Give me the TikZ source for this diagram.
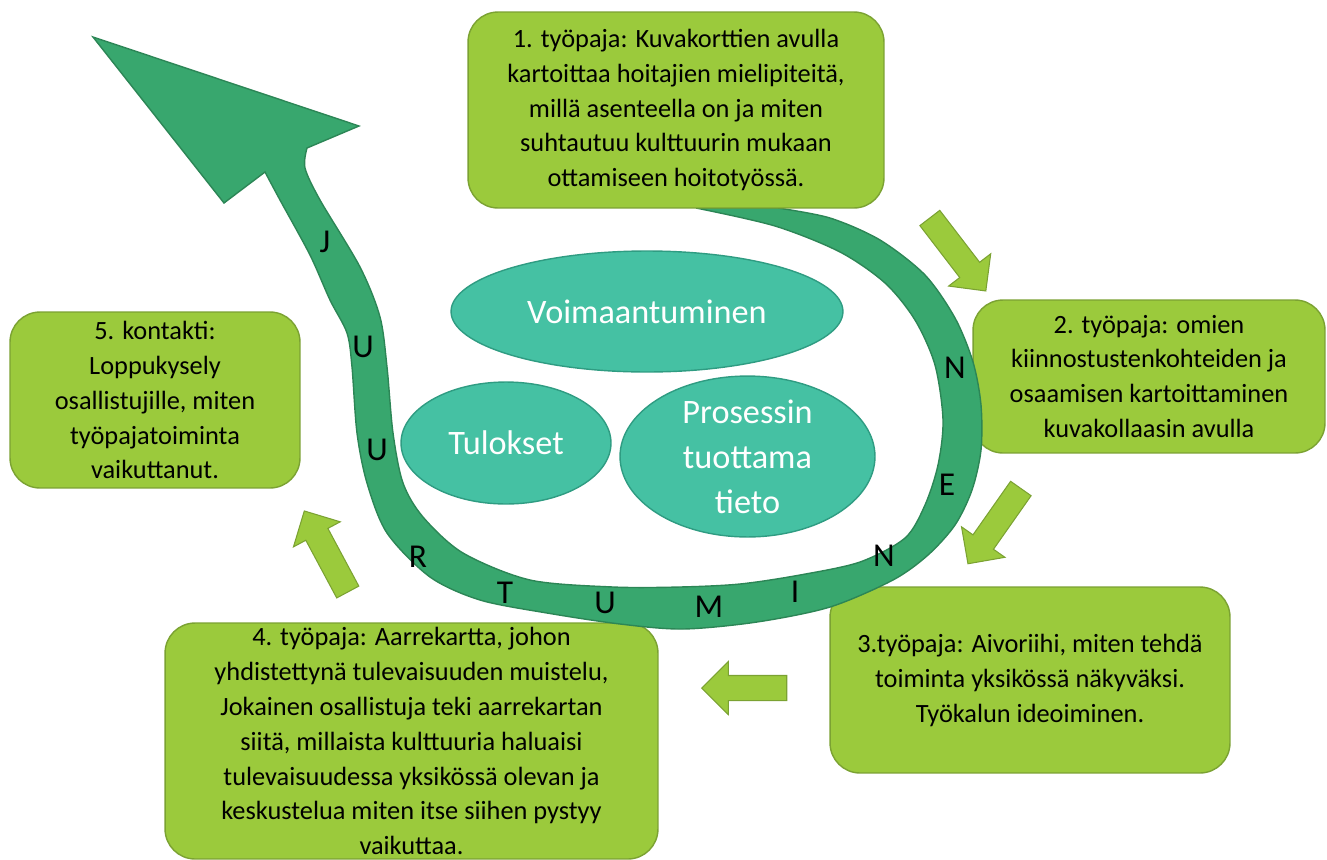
\documentclass[tikz,border=0pt]{standalone}
\usepackage{fontspec}
\setmainfont{Carlito}
\usepackage{xcolor}
\usetikzlibrary{shapes,positioning}
\definecolor{boxfill}{HTML}{9BCA3C}
\definecolor{boxedge}{HTML}{7BA232}
\definecolor{bandfill}{HTML}{38A76E}
\definecolor{bandedge}{HTML}{2C8656}
\definecolor{blobfill}{HTML}{45C1A3}
\definecolor{blobedge}{HTML}{2F9C82}

\begin{document}
\begin{tikzpicture}[x=0.02cm, y=-0.02cm,
    box/.style={draw=boxedge, fill=boxfill, line width=0.8pt, rounded corners=0.6cm,
      align=center, inner sep=0pt, font=\fontsize{15}{19.9}\selectfont},
    blob/.style={ellipse, draw=blobedge, fill=blobfill, line width=0.8pt, text=white,
      align=center, inner sep=0pt, font=\fontsize{19.5}{25.6}\selectfont},
    bandtxt/.style={font=\fontsize{19}{19}\selectfont},
    steparrow/.style={single arrow, draw=boxedge, fill=boxfill, line width=0.6pt,
      inner sep=0.24cm, single arrow head extend=0.28cm, minimum height=1.84cm}]
    \path[use as bounding box] (0,0) rectangle (1327,859);
    \clip (0,0) rectangle (1327,859);

    % work boxes
    \node[box, minimum width=7.04cm, minimum height=3.06cm] (ws2) at (1149,376.5)
      {2. työpaja: omien\\kiinnostustenkohteiden ja\\osaamisen kartoittaminen\\kuvakollaasin avulla};
    \node[box, minimum width=8.0cm, minimum height=3.72cm] (ws3) at (1030,680)
      {3.työpaja: Aivoriihi, miten tehdä\\toiminta yksikössä näkyväksi.\\Työkalun ideoiminen.};
    \node[box, minimum width=9.86cm, minimum height=4.72cm] (ws4) at (411.5,741)
      {4. työpaja: Aarrekartta, johon\\yhdistettynä tulevaisuuden muistelu,\\Jokainen osallistuja teki aarrekartan\\siitä, millaista kulttuuria haluaisi\\tulevaisuudessa yksikössä olevan ja\\keskustelua miten itse siihen pystyy\\vaikuttaa.};
    \node[box, minimum width=5.8cm, minimum height=3.52cm] (ws5) at (155,400)
      {5. kontakti:\\Loppukysely\\osallistujille, miten\\työpajatoiminta\\vaikuttanut.};

    % the big curved arrow
    \filldraw[fill=bandfill, draw=bandedge, line width=0.8pt]
      plot[smooth] coordinates {(696,208) (775,226) (840,252) (885,283) (915,320)
        (935,365) (943,420) (938,465) (925,505) (905,538) (860,562) (800,575)
        (740,584) (680,587) (613,587)
        (530,580) (463,553) (423,517) (403,483) (393,433) (387,367) (380,317)
        (360,267) (320,200) (305,168) (307,148)}
      -- (359,126) -- (93,37) -- (224,203) -- (265,172)
      -- plot[smooth] coordinates {(265,172) (280,200) (310,255) (330,300)
        (347,333) (352,367) (357,433) (367,483) (387,533) (430,577) (480,600)
        (547,613) (620,624) (683,629) (757,622) (830,607) (893,580) (928,555)
        (955,525) (972,490) (981,450) (981,405) (973,362) (955,318)
        (925,275) (880,240) (830,218) (778,208)}
      -- cycle;

    \node[box, minimum width=8.32cm, minimum height=3.92cm] (ws1) at (676,110)
      {1. työpaja: Kuvakorttien avulla\\kartoittaa hoitajien mielipiteitä,\\millä asenteella on ja miten\\suhtautuu kulttuurin mukaan\\ottamiseen hoitotyössä.};

    % letters on the arrow
    \node[bandtxt] (l1) at (325,242) {J};
    \node[bandtxt] (l2) at (363,347) {U};
    \node[bandtxt] (l3) at (377,450) {U};
    \node[bandtxt] (l4) at (418,557) {R};
    \node[bandtxt] (l5) at (505,593) {T};
    \node[bandtxt] (l6) at (605,603) {U};
    \node[bandtxt] (l7) at (709,607) {M};
    \node[bandtxt] (l8) at (795,592) {I};
    \node[bandtxt] (l9) at (884,556) {N};
    \node[bandtxt] (l10) at (947,485) {E};
    \node[bandtxt] (l11) at (955,368) {N};

    % results in the middle
    \node[blob, minimum width=7.84cm, minimum height=2.42cm] (power) at (647,311.5) {Voimaantuminen};
    \node[blob, minimum width=4.2cm, minimum height=2.44cm] (results) at (506,443) {Tulokset};
    \node[blob, minimum width=5.1cm, minimum height=2.54cm] (knowledge) at (747.5,456.5) {Prosessin\\tuottama\\tieto};

    % small arrows between the boxes
    \node[steparrow, rotate=-52.5] (a12) at (954,249.5) {};
    \node[steparrow, rotate=-125.1] (a23) at (998,521) {};
    \node[steparrow, rotate=180, minimum height=1.7cm] (a34) at (750.5,688) {};
    \node[steparrow, rotate=118.2] (a45) at (329,557) {};
\end{tikzpicture}
\end{document}
